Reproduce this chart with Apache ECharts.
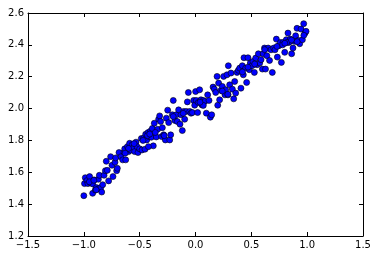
<!DOCTYPE html>
<html>
<head>
<meta charset="utf-8">
<script src="https://cdn.jsdelivr.net/npm/echarts@6/dist/echarts.min.js"></script>
<style>
html,body{margin:0;padding:0;background:#fff;}
#chart{width:382px;height:258px;}
</style>
</head>
<body>
<div id="chart"></div>
<script>
var xTicks = [-1.5, -1.0, -0.5, 0.0, 0.5, 1.0, 1.5];
var yTicks = [1.2, 1.4, 1.6, 1.8, 2.0, 2.2, 2.4, 2.6];

var xValues = [
-1.00,-0.994,-0.987,-0.972,-0.963,-0.948,-0.942,-0.921,-0.921,-0.906,-0.897,-0.888,-0.870,-0.867,-0.861,-0.849,-0.840,-0.831,-0.819,-0.807,
-0.799,-0.790,-0.778,-0.760,-0.748,-0.739,-0.721,-0.715,-0.706,-0.700,-0.685,-0.667,-0.652,-0.640,-0.625,-0.634,-0.610,-0.599,-0.590,-0.581,
-0.566,-0.554,-0.545,-0.533,-0.524,-0.515,-0.500,-0.485,-0.479,-0.464,-0.452,-0.446,-0.437,-0.425,-0.416,-0.404,-0.396,-0.387,-0.378,-0.369,
-0.422,-0.351,-0.339,-0.330,-0.321,-0.312,-0.303,-0.297,-0.285,-0.270,-0.261,-0.249,-0.240,-0.231,-0.222,-0.207,-0.199,-0.184,-0.172,-0.163,
-0.151,-0.139,-0.130,-0.118,-0.106,-0.097,-0.082,-0.073,-0.064,-0.052,-0.040,-0.028,-0.016,-0.007,0.001,0.007,0.019,0.025,0.037,0.049,
0.058,0.070,0.082,0.097,0.109,0.121,0.133,0.145,0.157,0.169,0.181,0.193,0.199,0.207,0.216,0.228,0.240,0.252,0.264,0.270,
0.282,0.291,0.294,0.306,0.318,0.330,0.342,0.351,0.360,0.372,0.384,0.396,0.407,0.419,0.428,0.434,0.449,0.458,0.470,0.482,
0.491,0.506,0.515,0.527,0.539,0.551,0.563,0.575,0.587,0.599,0.606,0.618,0.627,0.639,0.651,0.663,0.676,0.688,0.700,0.712,
0.724,0.733,0.748,0.760,0.769,0.784,0.799,0.813,0.828,0.837,0.849,0.861,0.873,0.885,0.897,0.909,0.921,0.933,0.945,0.957,
0.969,0.981,0.990,0.819,
-0.47,-0.43,-0.41,-0.36,-0.55,-0.60,-0.63,0.62,0.73,0.78,0.80,0.86,0.91,0.97,-0.95,-0.91,-0.89,0.47,0.53,0.42,
0.07,0.04,-0.11,-0.20,-0.28,0.24,0.29
];
var yValues = [
1.453,1.529,1.566,1.548,1.529,1.573,1.535,1.527,1.468,1.552,1.489,1.504,1.556,1.497,1.581,1.504,1.476,1.522,1.581,1.610,
1.669,1.612,1.546,1.698,1.644,1.573,1.663,1.690,1.610,1.625,1.724,1.698,1.678,1.726,1.678,1.747,1.761,1.730,1.782,1.740,
1.774,1.755,1.730,1.789,1.761,1.724,1.747,1.812,1.740,1.814,1.745,1.839,1.803,1.849,1.824,1.858,1.820,1.875,1.766,1.908,
1.761,1.822,1.870,1.933,1.954,1.919,1.824,1.880,1.835,1.803,1.940,1.990,1.912,1.803,1.835,1.961,2.051,1.925,1.961,1.919,
1.992,1.902,1.961,1.862,1.982,1.933,1.982,2.042,2.101,1.982,1.971,1.975,2.051,2.021,2.107,2.051,1.975,2.038,2.118,2.055,
2.023,2.051,2.044,1.971,2.086,2.051,1.946,1.961,2.135,2.122,2.101,2.202,2.021,2.160,2.055,2.114,2.139,2.202,2.086,2.118,
2.212,2.086,2.269,2.149,2.223,2.122,2.061,2.170,2.097,2.227,2.240,2.254,2.128,2.269,2.212,2.319,2.254,2.164,2.319,2.244,
2.286,2.269,2.296,2.227,2.317,2.275,2.344,2.286,2.307,2.248,2.344,2.380,2.248,2.332,2.380,2.302,2.369,2.227,2.380,2.369,
2.436,2.323,2.395,2.415,2.290,2.415,2.353,2.432,2.474,2.415,2.436,2.344,2.380,2.422,2.457,2.504,2.428,2.407,2.499,2.432,
2.533,2.474,2.485,2.415,
1.80,1.83,1.84,1.85,1.78,1.75,1.72,2.37,2.39,2.40,2.41,2.43,2.42,2.46,1.54,1.55,1.49,2.26,2.28,2.23,
2.02,2.04,1.97,1.95,1.83,2.11,2.09
];

var points = xValues.map(function (x, i) { return [x, yValues[i]]; });

function fmt(v) {
  var r = Math.round(v * 10) / 10;
  if (Math.abs(r) < 1e-9) r = 0;
  return (r < 0 ? '\u2212' : '') + Math.abs(r).toFixed(1);
}

var labelFont = { color: '#000', fontFamily: 'DejaVu Sans', fontSize: 10 };
var lineStyle = { color: '#000', width: 1 };

function xAxisDef(pos, showLabels) {
  return {
    type: 'value', position: pos,
    min: xTicks[0], max: xTicks[xTicks.length - 1], interval: 0.5,
    axisLine: { show: true, onZero: false, lineStyle: lineStyle },
    axisTick: { show: true, inside: true, length: 4, lineStyle: lineStyle },
    axisLabel: Object.assign({ show: showLabels, margin: 4, formatter: fmt, showMinLabel: true, showMaxLabel: true }, labelFont),
    splitLine: { show: false }
  };
}
function yAxisDef(pos, showLabels) {
  return {
    type: 'value', position: pos,
    min: yTicks[0], max: yTicks[yTicks.length - 1], interval: 0.2,
    axisLine: { show: true, onZero: false, lineStyle: lineStyle },
    axisTick: { show: true, inside: true, length: 4, lineStyle: lineStyle },
    axisLabel: Object.assign({ show: showLabels, margin: 4, formatter: fmt, showMinLabel: true, showMaxLabel: true }, labelFont),
    splitLine: { show: false }
  };
}

var chart = echarts.init(document.getElementById('chart'), null, { renderer: 'canvas' });
chart.setOption({
  animation: false,
  backgroundColor: '#fff',
  grid: { left: 28, right: 19, top: 13, bottom: 22, containLabel: false },
  xAxis: [xAxisDef('bottom', true), xAxisDef('top', false)],
  yAxis: [yAxisDef('left', true), yAxisDef('right', false)],
  series: [{
    type: 'scatter',
    xAxisIndex: 0, yAxisIndex: 0,
    data: points,
    symbol: 'circle',
    symbolSize: 6,
    itemStyle: { color: '#0000ff', borderColor: '#000', borderWidth: 0.6, opacity: 1 }
  }]
});
</script>
</body>
</html>
